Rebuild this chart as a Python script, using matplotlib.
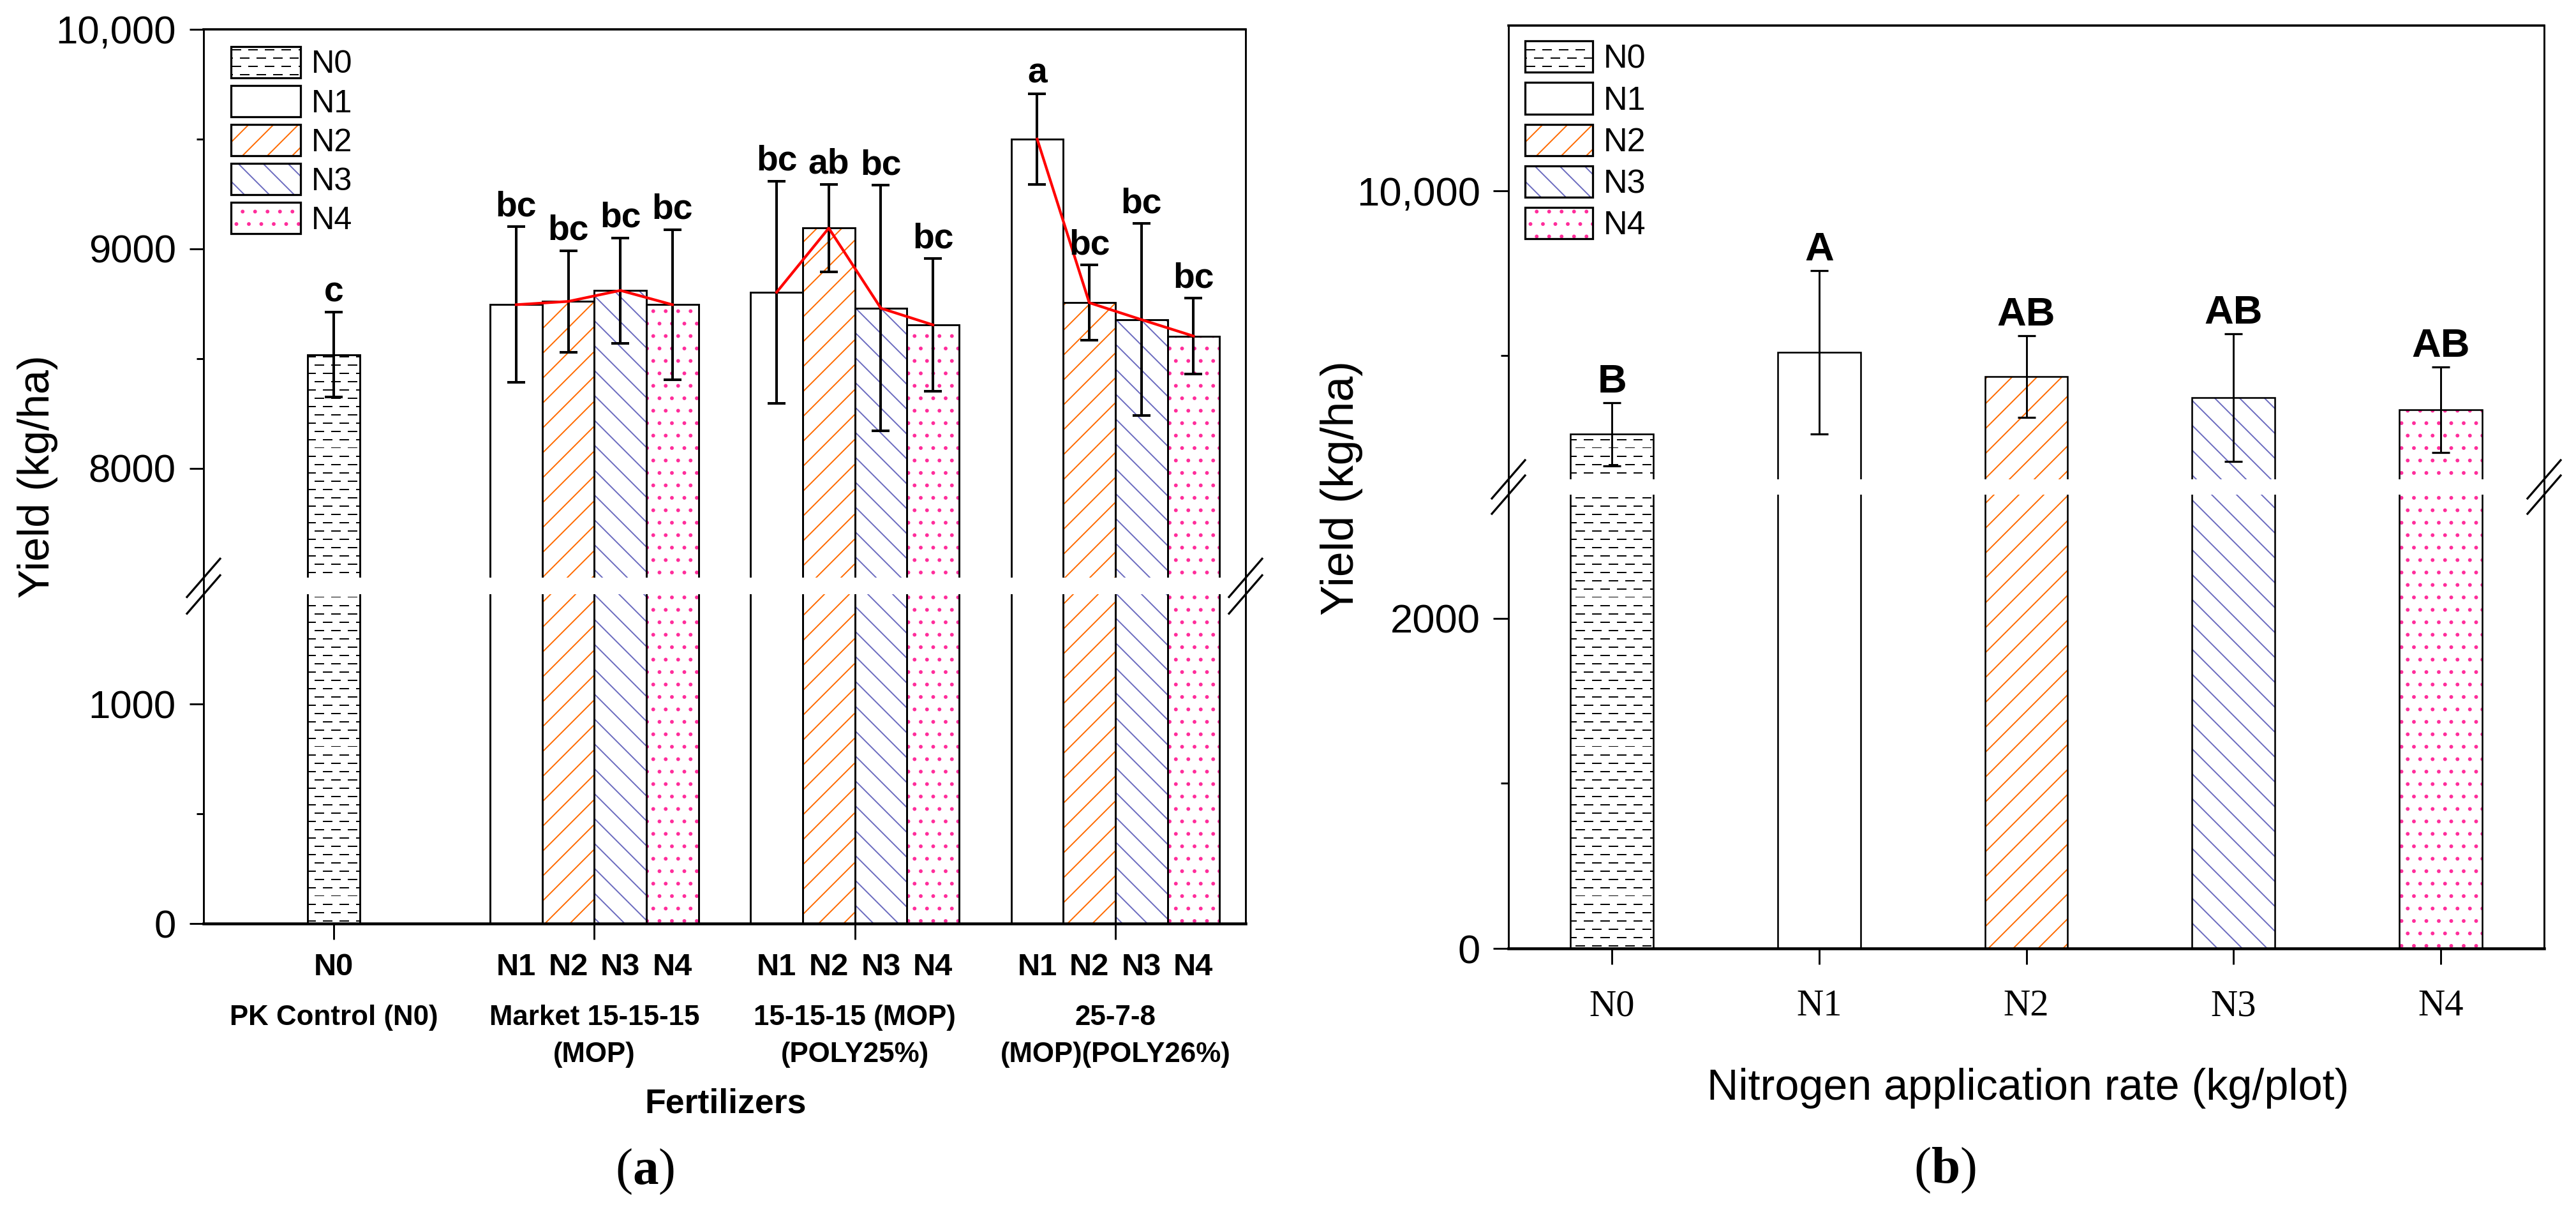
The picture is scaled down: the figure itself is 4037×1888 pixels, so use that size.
import numpy as np
import matplotlib
matplotlib.use('Agg')
import matplotlib.pyplot as plt
import matplotlib.hatch as mhatch
from matplotlib.path import Path
from matplotlib.patches import Patch
from matplotlib.legend_handler import HandlerTuple
from matplotlib.transforms import blended_transform_factory

# values
levels = ['N0', 'N1', 'N2', 'N3', 'N4']

# (a) yield per fertilizer and N level
fertilizers = ['PK Control (N0)', 'Market 15-15-15\n(MOP)',
               '15-15-15 (MOP)\n(POLY25%)', '25-7-8\n(MOP)(POLY26%)']
group_levels = [['N0'], ['N1', 'N2', 'N3', 'N4'],
                ['N1', 'N2', 'N3', 'N4'], ['N1', 'N2', 'N3', 'N4']]
group_yield = [[8517], [8745, 8760, 8810, 8745],
               [8802, 9094, 8729, 8653], [9500, 8754, 8677, 8602]]
group_err = [[193], [355, 232, 240, 343],
             [507, 200, 560, 302], [207, 172, 438, 172]]
group_letters = [['c'], ['bc', 'bc', 'bc', 'bc'],
                 ['bc', 'ab', 'bc', 'bc'], ['a', 'bc', 'bc', 'bc']]

# (b) yield per N application rate
rate_yield = [8523, 9019, 8872, 8745, 8671]
rate_err = [191, 494, 247, 387, 260]
rate_letters = ['B', 'A', 'AB', 'AB', 'AB']

# fill pattern and pattern colour of each N level
STYLE = {'N0': ('---', 'black'), 'N1': ('', 'black'), 'N2': ('//', '#ff6a00'),
         'N3': ('\\\\', '#6b6bbf'), 'N4': ('..', '#ff2d9b')}


# Origin-like dashed rows for "-" instead of solid lines
class DashedRows(mhatch.HatchPatternBase):
    def __init__(self, hatch, density):
        self.num_lines = int(hatch.count('-') * density)
        self.num_dashes = 9
        self.num_vertices = self.num_lines * self.num_dashes * 2

    def set_vertices_and_codes(self, vertices, codes):
        p = 1.0 / self.num_dashes
        i = 0
        for r in range(self.num_lines):
            y = r / self.num_lines
            shift = p / 2 if r % 2 else 0.0
            for k in range(self.num_dashes):
                x0 = k * p + shift
                vertices[i] = (x0, y)
                vertices[i + 1] = (x0 + p / 2, y)
                codes[i] = Path.MOVETO
                codes[i + 1] = Path.LINETO
                i += 2


mhatch._hatch_types[mhatch._hatch_types.index(mhatch.HorizontalHatch)] = DashedRows

plt.rcParams['font.family'] = 'Liberation Sans'
plt.rcParams['hatch.linewidth'] = 0.6
plt.rcParams['mathtext.fontset'] = 'custom'
plt.rcParams['mathtext.rm'] = 'Liberation Serif'
plt.rcParams['mathtext.bf'] = 'Liberation Serif:bold'

W, H, DPI = 4037, 1888, 234
fig = plt.figure(figsize=(W / DPI, H / DPI), dpi=DPI)


def broken_scale(lo_top, hi_bot, gap):
    span = hi_bot - lo_top

    def fwd(y):
        y = np.asarray(y, dtype=float)
        return np.where(y <= lo_top, y,
                        np.where(y >= hi_bot, y - span + gap,
                                 lo_top + (y - lo_top) * gap / span))

    def inv(z):
        z = np.asarray(z, dtype=float)
        return np.where(z <= lo_top, z,
                        np.where(z >= lo_top + gap, z + span - gap,
                                 lo_top + (z - lo_top) * span / gap))
    return fwd, inv


def setup_broken(ax, lo_top, hi_bot, gap, ymax, w_px, h_px):
    fwd, inv = broken_scale(lo_top, hi_bot, gap)
    ax.set_yscale('function', functions=(fwd, inv))
    ax.axhspan(lo_top, hi_bot, facecolor='white', edgecolor='none', zorder=2)
    ax.set_ylim(0, ymax)
    total = float(fwd(ymax))
    dx, dy = 26 / w_px, 30 / h_px
    for xc in (0, 1):
        for yc in (lo_top / total, (lo_top + gap) / total):
            ax.plot([xc - dx, xc + dx], [yc - dy, yc + dy], transform=ax.transAxes,
                    color='black', lw=1.0, clip_on=False, zorder=6)


def hatched_bar(ax, x, h, w, level, lw):
    pattern, pcolor = STYLE[level]
    ax.bar(x, h, w, color='white', edgecolor=pcolor, hatch=pattern, linewidth=0, zorder=1)
    ax.bar(x, h, w, fill=False, edgecolor='black', linewidth=lw, zorder=1.1)


def legend_handles():
    return [(Patch(facecolor='white', edgecolor=STYLE[l][1], hatch=STYLE[l][0], linewidth=0),
             Patch(facecolor='none', edgecolor='black', linewidth=1.0)) for l in levels]


def style_spines(ax):
    for s in ax.spines.values():
        s.set_linewidth(0.9)
    ax.spines['top'].set_linewidth(1.1)
    ax.spines['bottom'].set_linewidth(1.4)


# ---------------- (a) ----------------
axa_rect = [319 / W, 1 - 1447 / H, 1633 / W, 1401 / H]
ax1 = fig.add_axes(axa_rect)
setup_broken(ax1, 1500, 7500, 75.6, 10000, 1633, 1401)

bar_w = 0.2
group_x = np.arange(len(fertilizers))
bar_x, bar_lab = [], []
for g, gx in enumerate(group_x):
    n = len(group_yield[g])
    xs = gx + (np.arange(n) - (n - 1) / 2) * bar_w
    for x, lev, y in zip(xs, group_levels[g], group_yield[g]):
        hatched_bar(ax1, x, y, bar_w, lev, 0.9)
    ax1.errorbar(xs, group_yield[g], yerr=group_err[g], fmt='none', ecolor='black',
                 elinewidth=1.25, capsize=4.3, capthick=1.25, zorder=3)
    if n > 1:
        ax1.plot(xs, group_yield[g], color='red', lw=1.3, zorder=4)
    for x, y, e, t in zip(xs, group_yield[g], group_err[g], group_letters[g]):
        ax1.annotate(t, (x, y + e), xytext=(0, 5.2), textcoords='offset points',
                     ha='center', va='baseline', fontsize=17, fontweight='bold', zorder=5)
    bar_x.extend(xs)
    bar_lab.extend(group_levels[g])

ax1.set_xlim(-0.5, 3.5)
ax1.xaxis.remove_overlapping_locs = False
ax1.set_xticks(group_x, labels=[''] * len(group_x))
ax1.set_xticks(bar_x, labels=bar_lab, minor=True)
for lab in ax1.get_xticklabels(minor=True):
    lab.set_fontweight('bold')
    lab.set_fontsize(15)
ax1.set_yticks([0, 1000, 8000, 9000, 10000], labels=['0', '1000', '8000', '9000', '10,000'])
ax1.set_yticks([500, 8500, 9500], minor=True)
ax1.tick_params(axis='both', which='both', direction='out', width=0.9, right=False, top=False)
ax1.tick_params(axis='y', which='major', length=6.8, pad=6.5, labelsize=19)
ax1.tick_params(axis='y', which='minor', length=3.5)
ax1.tick_params(axis='x', which='major', length=7.7)
ax1.tick_params(axis='x', which='minor', length=0, pad=14)
style_spines(ax1)

ax1.legend(legend_handles(), levels, handler_map={tuple: HandlerTuple(ndivide=1)},
           loc='upper left', bbox_to_anchor=(0.0263, 0.9807), frameon=False,
           borderpad=0, borderaxespad=0, fontsize=15.5, handlelength=2.16,
           handleheight=1.11, labelspacing=0.19, handletextpad=0.34)

# fertilizer names under the N labels, one text per line
tr = blended_transform_factory(ax1.transData, fig.transFigure)
for gx, name in zip(group_x, fertilizers):
    for i, line in enumerate(name.split('\n')):
        fig.text(gx, 1 - (1606 + 58 * i) / H, line, transform=tr, ha='center',
                 va='baseline', fontsize=13.5, fontweight='bold')
fig.text(1137 / W, 1 - 1744 / H, 'Fertilizers', ha='center', va='baseline',
         fontsize=16.5, fontweight='bold')
fig.text(59 / W, 1 - 747 / H, 'Yield (kg/ha)', rotation=90, ha='center', va='center', fontsize=21)
fig.text(1011 / W, 1 - 1855 / H, r'($\mathbf{a}$)', ha='center', va='baseline',
         fontsize=25, family='Liberation Serif')

# ---------------- (b) ----------------
axb_rect = [2364 / W, 1 - 1486 / H, 1623 / W, 1446 / H]
ax2 = fig.add_axes(axb_rect)
setup_broken(ax2, 2750, 8250, 92.8, 11000, 1623, 1446)

rate_x = np.arange(len(levels))
for x, lev, y in zip(rate_x, levels, rate_yield):
    hatched_bar(ax2, x, y, 0.4, lev, 0.8)
ax2.errorbar(rate_x, rate_yield, yerr=rate_err, fmt='none', ecolor='black',
             elinewidth=0.9, capsize=4.4, capthick=1.0, zorder=3)
for x, y, e, t in zip(rate_x, rate_yield, rate_err, rate_letters):
    ax2.annotate(t, (x, y + e), xytext=(0, 5.0), textcoords='offset points',
                 ha='center', va='baseline', fontsize=19.5, fontweight='bold', zorder=5)

ax2.set_xlim(-0.5, 4.5)
ax2.set_xticks(rate_x, labels=levels, fontfamily='Liberation Serif', fontsize=18)
ax2.set_yticks([0, 2000, 10000], labels=['0', '2000', '10,000'])
ax2.set_yticks([1000, 9000], minor=True)
ax2.tick_params(axis='both', which='both', direction='out', width=0.9, right=False, top=False)
ax2.tick_params(axis='y', which='major', length=7.5, pad=6, labelsize=19.5)
ax2.tick_params(axis='y', which='minor', length=3.7)
ax2.tick_params(axis='x', which='major', length=7.7, pad=12)
style_spines(ax2)

ax2.legend(legend_handles(), levels, handler_map={tuple: HandlerTuple(ndivide=1)},
           loc='upper left', bbox_to_anchor=(0.016, 0.9834), frameon=False,
           borderpad=0, borderaxespad=0, fontsize=16, handlelength=2.04,
           handleheight=1.08, labelspacing=0.23, handletextpad=0.33)

fig.text(3178 / W, 1 - 1723 / H, 'Nitrogen application rate (kg/plot)', ha='center',
         va='baseline', fontsize=21)
fig.text(2103 / W, 1 - 765 / H, 'Yield (kg/ha)', rotation=90, ha='center', va='center', fontsize=22)
fig.text(3048 / W, 1 - 1853 / H, r'($\mathbf{b}$)', ha='center', va='baseline',
         fontsize=25, family='Liberation Serif')

fig.savefig('out.png', dpi=DPI)
